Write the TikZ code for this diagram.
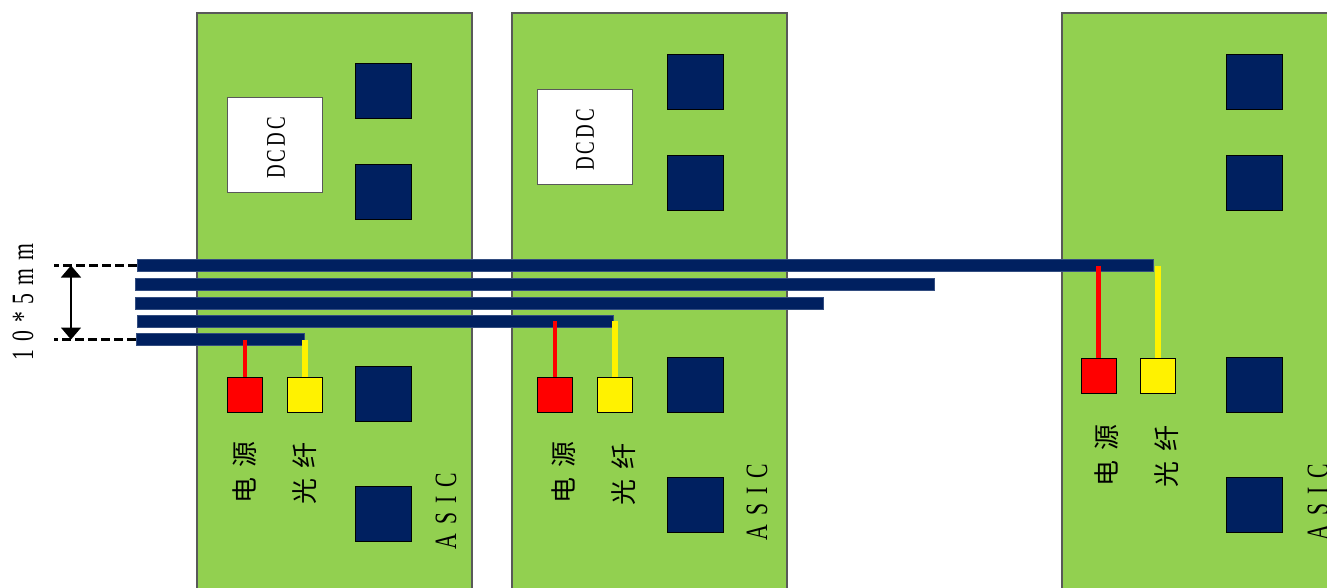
\documentclass[tikz,border=0pt]{standalone}
\usepackage{fontspec}
\usetikzlibrary{arrows.meta}
\newfontfamily\cjk{Noto Sans CJK SC}
\newfontfamily\narrowserif[FakeStretch=0.7]{Liberation Serif}
\definecolor{pcbgreen}{HTML}{92D050}
\definecolor{navy}{HTML}{002060}
\definecolor{edgegray}{HTML}{595959}
\newcommand{\gp}[1]{\hspace{#1pt}}
\begin{document}
\begin{tikzpicture}[x=1pt,y=-1pt,
  board/.style={draw=edgegray,line width=1.5pt,fill=pcbgreen,inner sep=0pt,minimum width=275pt,minimum height=600pt},
  chip/.style={draw=black,line width=0.8pt,fill=navy,inner sep=0pt,minimum width=56pt,minimum height=55pt},
  dcdc/.style={draw=edgegray,line width=1pt,fill=white,inner sep=0pt,minimum width=95pt,minimum height=95pt},
  pwr/.style={draw=black,line width=0.8pt,fill=red,inner sep=0pt,minimum size=35pt},
  fib/.style={draw=black,line width=0.8pt,fill=yellow,inner sep=0pt,minimum size=35pt},
  bar/.style={draw=navy!80!white,line width=0.4pt,fill=navy,inner sep=0pt,minimum height=12pt},
  rwire/.style={draw=red,line width=4.5pt},
  ywire/.style={draw=yellow,line width=6pt},
  cjklbl/.style={rotate=90,inner sep=0pt,font=\cjk\fontsize{26}{26}\selectfont},
  latlbl/.style={rotate=90,inner sep=0pt,font=\narrowserif\fontsize{31}{31}\selectfont},
  dcdclbl/.style={rotate=90,inner sep=0pt,font=\narrowserif\fontsize{27}{27}\selectfont},
  dimline/.style={dashed,dash pattern=on 9pt off 4pt,line width=2.5pt,black},
  dimarrow/.style={line width=1.5pt,{Triangle[width=20pt,length=12pt]}-{Triangle[width=20pt,length=12pt]}}
]
\clip (0,0) rectangle (1327,587);
\fill[white] (0,0) rectangle (1327,587);

% boards
\node[board] (b1) at (334.5,313) {};
\node[board] (b2) at (649.5,313) {};
\node[board,minimum width=290pt] (b3) at (1207,313) {};

% DCDC
\node[dcdc] (d1) at (275,144.5) {};
\node[dcdclbl] (d1t) at (276,148) {D\gp{3}C\gp{3}D\gp{3}C};
\node[dcdc] (d2) at (585,136.5) {};
\node[dcdclbl] (d2t) at (585,140) {D\gp{3}C\gp{3}D\gp{3}C};

% chips
\node[chip] (c11) at (383.5,91) {};
\node[chip] (c12) at (383.5,192) {};
\node[chip] (c13) at (383.5,394) {};
\node[chip] (c14) at (383.5,513.5) {};
\node[chip] (c21) at (695,81.5) {};
\node[chip] (c22) at (695,182.5) {};
\node[chip] (c23) at (695,385) {};
\node[chip] (c24) at (695,504.5) {};
\node[chip] (c31) at (1254.5,81.5) {};
\node[chip] (c32) at (1254.5,182.5) {};
\node[chip] (c33) at (1254.5,385) {};
\node[chip] (c34) at (1254.5,504.5) {};

% bars
\node[bar,minimum width=1016pt] (bar1) at (645,265.5) {};
\node[bar,minimum width=799pt] (bar2) at (534.5,284) {};
\node[bar,minimum width=688pt] (bar3) at (479,303) {};
\node[bar,minimum width=476pt] (bar4) at (375,321) {};
\node[bar,minimum width=168pt] (bar5) at (220,339.5) {};

% connector squares (positions)
\path (245,394.5) coordinate (p1) (305,394.5) coordinate (f1)
      (555,395) coordinate (p2) (615,395) coordinate (f2)
      (1098.5,376) coordinate (p3) (1157.5,376) coordinate (f3);

% wires
\draw[rwire] (p1 |- bar5.center) -- (p1);
\draw[ywire] (f1 |- bar5.center) -- (f1);
\draw[rwire] (p2 |- bar4.center) -- (p2);
\draw[ywire] (f2 |- bar4.center) -- (f2);
\draw[rwire] (p3 |- bar1.center) -- (p3);
\draw[ywire] (f3 |- bar1.center) -- (f3);
% squares on top of wires
\node[pwr] (ps1) at (p1) {};
\node[fib] (fs1) at (f1) {};
\node[pwr] (ps2) at (p2) {};
\node[fib] (fs2) at (f2) {};
\node[pwr] (ps3) at (p3) {};
\node[fib] (fs3) at (f3) {};

% labels
\node[cjklbl] (l11) at (245,472) {电\gp{10}源};
\node[cjklbl] (l12) at (305,473) {光\gp{10}纤};
\node[cjklbl] (l21) at (564,472) {电\gp{10}源};
\node[cjklbl] (l22) at (624,474) {光\gp{10}纤};
\node[cjklbl] (l31) at (1107,455) {电\gp{10}源};
\node[cjklbl] (l32) at (1167,456) {光\gp{10}纤};
\node[latlbl] (a1) at (446,511) {A\gp{9}S\gp{9}I\gp{9}C};
\node[latlbl] (a2) at (757,502) {A\gp{9}S\gp{9}I\gp{9}C};
\node[latlbl] (a3) at (1318,502) {A\gp{9}S\gp{9}I\gp{9}C};

% dimension
\coordinate (dt) at (54,265.5);
\coordinate (db) at (54,339.5);
\draw[dimline] (bar1.west) -- (dt);
\draw[dimline] (bar5.west) -- (db);
\coordinate (at) at (71,265.5);
\coordinate (ab) at (71,339.5);
\draw[dimarrow] (at) -- (ab);
\node[latlbl,font=\narrowserif\fontsize{31}{31}\selectfont] (dimtxt) at (23,302) {1\gp{8}0\gp{8}*\gp{8}5\gp{8}m\gp{8}m};
\end{tikzpicture}
\end{document}
